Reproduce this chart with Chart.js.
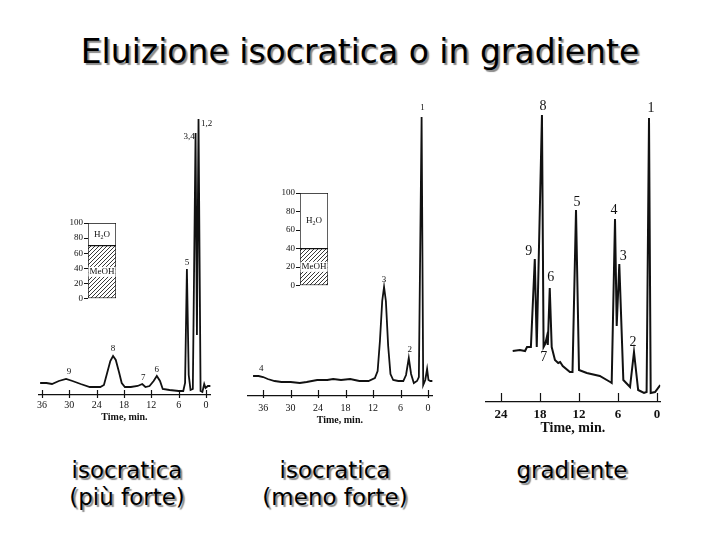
<!DOCTYPE html>
<html>
<head>
<meta charset="utf-8">
<script src="https://cdn.jsdelivr.net/npm/chart.js@4.4.1/dist/chart.umd.min.js"></script>
<style>
  body { margin: 0; background: #fff; width: 720px; height: 540px; position: relative; overflow: hidden; }
  canvas { position: absolute; }
  .txt { position: absolute; text-align: center; font-family: 'DejaVu Sans'; color: #000; text-shadow: 2px 2px 1px #8a8a8a; }
  .cap { width: 200px; top: 457px; font-size: 23px; line-height: 27px; }
</style>
</head>
<body>
<div class="txt" style="left:0;width:720px;top:32px;font-size:33px;line-height:40px">Eluizione isocratica o in gradiente</div>
<div class="txt cap" style="left:27px">isocratica<br>(più forte)</div>
<div class="txt cap" style="left:235px">isocratica<br>(meno forte)</div>
<div class="txt cap" style="left:472px">gradiente</div>

<canvas id="left" width="230" height="333" style="left:0;top:90px"></canvas>
<canvas id="middle" width="210" height="336" style="left:235px;top:90px"></canvas>
<canvas id="right" width="205" height="347" style="left:470px;top:90px"></canvas>
<canvas id="inset-left" width="62" height="90" style="left:58px;top:215px"></canvas>
<canvas id="inset-middle" width="62" height="107" style="left:270px;top:185px"></canvas>

<script>
// isocratic, stronger eluent (70% MeOH)
const leftTime   = [36.4, 35.0, 33.8, 32.3, 30.7, 29.3, 27.5, 25.5, 23.2, 22.4, 21.7, 21.0, 20.4, 19.8, 19.1, 18.5, 17.8, 16.5, 15.0, 14.0, 13.3, 12.4, 11.5, 10.8, 10.1, 9.5, 8.0, 6.0, 5.0, 4.6, 4.2, 3.8, 3.4, 2.9, 2.3, 2.0, 1.65, 1.2, 0.8, 0.4, 0.1, -0.4, -1.0];
const leftSignal = [12, 12, 11, 14, 16, 14, 11, 8, 8, 10, 22, 34, 39, 35, 23, 12, 8, 8, 9, 11, 8, 9, 14, 19, 14, 6, 5, 4, 4, 12, 126, 20, 5, 6, 262, 60, 276, 4, 3, 11, 7, 9, 9];
const leftPeakNames = ['9', '8', '7', '6', '5', '3,4', '1,2'];
const leftPeakTimes = [30.7, 20.4, 14.0, 10.8, 4.2, 2.3, 1.65];

// isocratic, weaker eluent (40% MeOH)
const midTime   = [38.2, 37.0, 36.0, 35.0, 33.5, 32.0, 30.0, 28.0, 26.5, 24.2, 22.0, 20.7, 19.0, 17.0, 15.0, 13.0, 11.6, 11.0, 10.5, 10.0, 9.6, 9.2, 8.7, 8.2, 7.6, 6.5, 5.4, 4.8, 4.2, 3.7, 3.1, 2.4, 2.0, 1.4, 1.05, 0.6, 0.2, -0.1, -0.5, -1.0];
const midSignal = [20, 20, 19, 17, 15, 14, 14, 13, 14, 16, 16, 17, 16, 17, 15, 15, 18, 25, 55, 95, 109, 95, 50, 22, 16, 15, 15, 21, 38, 22, 13, 15, 19, 279, 11, 16, 27, 16, 15, 15];
const midPeakNames = ['4', '3', '2', '1'];
const midPeakTimes = [36.0, 9.6, 4.2, 1.4];

// gradient elution
const rightTime   = [22.2, 21.1, 20.3, 20.0, 19.7, 19.4, 18.8, 18.5, 17.7, 17.45, 17.2, 16.95, 16.8, 16.5, 16.2, 15.7, 15.2, 14.9, 14.5, 13.4, 13.0, 12.46, 12.0, 10.8, 8.8, 7.2, 6.97, 6.46, 6.2, 5.8, 5.18, 4.15, 3.54, 2.9, 2.0, 1.6, 1.23, 0.97, 0.3, -0.5];
const rightSignal = [51, 52, 51, 55, 55, 55, 143, 55, 287, 55, 58, 65, 57, 114, 55, 42, 39, 40, 36, 30, 30, 192, 32, 29, 26, 20, 19, 183, 76, 138, 22, 15, 50, 12, 9, 10, 284, 9, 10, 17];
const rightPeakNames = ['9', '8', '7', '6', '5', '4', '3', '2', '1'];
const rightPeakTimes = [18.8, 17.7, 16.95, 16.5, 12.46, 6.46, 5.8, 3.54, 1.23];

const isoTicks = [36, 30, 24, 18, 12, 6, 0];
const gradTicks = [24, 18, 12, 6, 0];

// mobile phase composition, % (MeOH, H2O)
const solvents = ['MeOH', 'H2O'];
const leftPhase = [70, 30];
const midPhase = [40, 60];
const insetTicks = [0, 20, 40, 60, 80, 100];

const $ = id => document.getElementById(id);
const INK = '#111';
const serif = (size, weight) => ({ family: '"Liberation Serif", serif', size, weight: weight || 'normal' });

// tick marks that cross the time axis line
const axisTicks = {
  id: 'axisTicks',
  afterDraw(chart, args, opts) {
    const x = chart.scales.x, ctx = chart.ctx;
    ctx.save();
    ctx.strokeStyle = INK;
    ctx.lineWidth = 1.2;
    x.ticks.forEach(t => {
      const px = Math.round(x.getPixelForValue(t.value)) + 0.5;
      ctx.beginPath();
      ctx.moveTo(px, x.top - opts.up);
      ctx.lineTo(px, x.top + opts.down);
      ctx.stroke();
    });
    ctx.restore();
  }
};

// peak numbers written next to each peak
const peakLabels = {
  id: 'peakLabels',
  afterDatasetsDraw(chart, args, opts) {
    const { ctx, scales: { x, y } } = chart;
    const data = chart.data.datasets[0].data;
    ctx.save();
    ctx.font = opts.font;
    ctx.fillStyle = INK;
    ctx.textAlign = 'center';
    ctx.textBaseline = 'middle';
    opts.names.forEach((name, i) => {
      const t = opts.times[i];
      const pt = data.find(p => p.x === t);
      const [dx, dy] = opts.offsets[name] || [0, -7];
      ctx.fillText(name, x.getPixelForValue(t) + dx, y.getPixelForValue(pt.y) + dy);
    });
    ctx.restore();
  }
};

function traceChart(id, times, signal, names, peakTimes, o) {
  return new Chart($(id), {
    type: 'line',
    data: {
      datasets: [{
        data: times.map((t, i) => ({ x: t, y: signal[i] })),
        borderColor: INK, borderWidth: o.lw, pointRadius: 0, tension: 0, fill: false
      }]
    },
    options: {
      responsive: false, animation: false, events: [],
      layout: { padding: o.pad },
      plugins: {
        legend: { display: false }, tooltip: { enabled: false },
        peakLabels: { names, times: peakTimes, font: o.labelFont, offsets: o.offsets },
        axisTicks: { up: o.up, down: o.down }
      },
      scales: {
        x: {
          type: 'linear', reverse: true, min: o.xMin, max: o.xMax,
          afterBuildTicks: s => { s.ticks = o.ticks.map(v => ({ value: v })); },
          afterFit: s => { s.height = o.axisH; },
          grid: { display: false, drawTicks: false },
          border: { display: true, color: INK, width: 1.2 },
          ticks: { padding: o.tickPad, color: INK, font: o.tickFont, maxRotation: 0, autoSkip: false },
          title: { display: true, text: 'Time, min.', color: INK, font: o.titleFont, padding: 0 }
        },
        y: { display: false, min: 0, max: o.yMax }
      }
    },
    plugins: [axisTicks, peakLabels]
  });
}

function hatchPattern() {
  const c = document.createElement('canvas');
  c.width = c.height = 4;
  const g = c.getContext('2d');
  g.fillStyle = '#fff';
  g.fillRect(0, 0, 4, 4);
  g.strokeStyle = '#222';
  g.lineWidth = 0.9;
  g.beginPath();
  g.moveTo(0, 4); g.lineTo(4, 0);
  g.moveTo(-1, 1); g.lineTo(1, -1);
  g.moveTo(3, 5); g.lineTo(5, 3);
  g.stroke();
  return g.createPattern(c, 'repeat');
}

// "H2O" / "MeOH" with the digit as subscript
function drawChem(ctx, text, cx, cy, clear) {
  const big = '9px "Liberation Serif"', small = '6px "Liberation Serif"';
  const parts = text.match(/\d+|\D+/g);
  let w = 0;
  parts.forEach(p => { ctx.font = /\d/.test(p) ? small : big; w += ctx.measureText(p).width; });
  ctx.save();
  if (clear) { ctx.fillStyle = '#fff'; ctx.fillRect(cx - w / 2 - 1, cy - 5, w + 2, 10); }
  ctx.fillStyle = INK;
  ctx.textBaseline = 'middle';
  ctx.textAlign = 'left';
  let x = cx - w / 2;
  parts.forEach(p => {
    const sub = /\d/.test(p);
    ctx.font = sub ? small : big;
    ctx.fillText(p, x, cy + (sub ? 3 : 0));
    x += ctx.measureText(p).width;
  });
  ctx.restore();
}

const solventText = {
  id: 'solventText',
  afterDatasetsDraw(chart) {
    chart.data.datasets.forEach((ds, i) => {
      const bar = chart.getDatasetMeta(i).data[0];
      drawChem(chart.ctx, ds.label, bar.x, (bar.y + bar.base) / 2, i === 0);
    });
  }
};

function insetChart(id, phase) {
  const hatch = hatchPattern();
  return new Chart($(id), {
    type: 'bar',
    data: {
      labels: [''],
      datasets: solvents.map((s, i) => ({
        label: s, data: [phase[i]],
        backgroundColor: i === 0 ? hatch : '#fff',
        borderColor: INK, borderWidth: 1, borderSkipped: false,
        barPercentage: 1, categoryPercentage: 1
      }))
    },
    options: {
      responsive: false, animation: false, events: [],
      layout: { padding: { left: 2, right: 4, top: 8, bottom: 6 } },
      plugins: { legend: { display: false }, tooltip: { enabled: false } },
      scales: {
        x: { stacked: true, display: false },
        y: {
          stacked: true, min: 0, max: 100,
          afterBuildTicks: s => { s.ticks = insetTicks.map(v => ({ value: v })); },
          afterFit: s => { s.width = 28; },
          grid: { drawOnChartArea: false, tickLength: 4, color: INK },
          border: { display: false },
          ticks: { color: INK, font: serif(9), padding: 1 }
        }
      }
    },
    plugins: [solventText]
  });
}

traceChart('left', leftTime, leftSignal, leftPeakNames, leftPeakTimes, {
  lw: 1.8, xMin: -1, xMax: 36.8, yMax: 300, ticks: isoTicks,
  pad: { left: 38.3, right: 19.4, top: 5, bottom: 0 }, axisH: 28, tickPad: 4,
  tickFont: serif(10), titleFont: serif(10, 'bold'), labelFont: '9px "Liberation Serif"',
  up: 5, down: 3,
  offsets: { '9': [3, -7], '7': [1, -6], '6': [0, -6], '5': [0, -6], '3,4': [-6.5, 4], '1,2': [8, 5] }
});

traceChart('middle', midTime, midSignal, midPeakNames, midPeakTimes, {
  lw: 1.8, xMin: -1, xMax: 39.5, yMax: 301, ticks: isoTicks,
  pad: { left: 12.1, right: 12.4, top: 5, bottom: 0 }, axisH: 30, tickPad: 6,
  tickFont: serif(10), titleFont: serif(10, 'bold'), labelFont: '9px "Liberation Serif"',
  up: 6, down: 2,
  offsets: { '4': [-2, -8], '2': [1, -8], '1': [1, -9] }
});

traceChart('right', rightTime, rightSignal, rightPeakNames, rightPeakTimes, {
  lw: 2, xMin: -0.5, xMax: 26.4, yMax: 307, ticks: gradTicks,
  pad: { left: 15.4, right: 14.75, top: 5, bottom: 0 }, axisH: 35, tickPad: 4.5,
  tickFont: serif(13, 'bold'), titleFont: serif(14, 'bold'), labelFont: '14px "Liberation Serif"',
  up: 9, down: 0,
  offsets: { '9': [-6, -8], '8': [1, -9], '7': [-3, 20], '6': [1, -11], '5': [1, -8], '4': [-1, -9], '3': [4, -8], '2': [-1, -10], '1': [2, -10] }
});

insetChart('inset-left', leftPhase);
insetChart('inset-middle', midPhase);
</script>
</body>
</html>
